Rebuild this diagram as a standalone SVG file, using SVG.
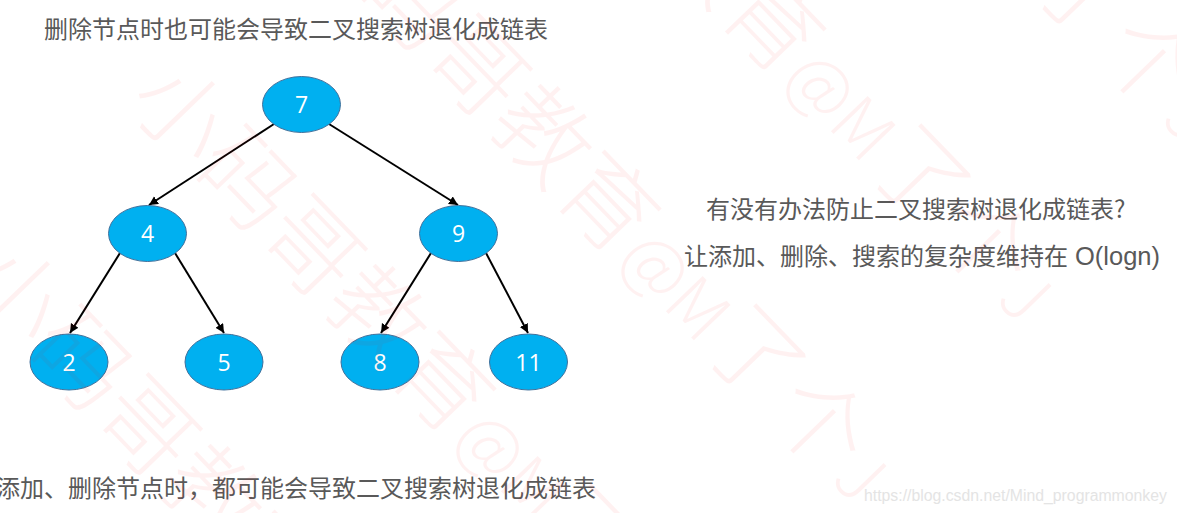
<svg xmlns="http://www.w3.org/2000/svg" width="1177" height="513" viewBox="0 0 1177 513">
<style>
.t{font-family:"Noto Sans CJK SC","Noto Sans",sans-serif;font-size:24px;fill:#595959}
.n{fill:#00b0f0;stroke:#41719c;stroke-width:1}
.l{font-family:"Open Sans","Noto Sans",sans-serif;font-size:23px;fill:#fff;text-anchor:middle}
.e{stroke:#000;stroke-width:2;fill:none;marker-end:url(#a)}
.w{font-family:"Noto Sans CJK SC",sans-serif;font-weight:300;font-size:94px;fill:#ff0000;fill-opacity:.055}
.s{font-size:70px}
</style>
<defs><marker id="a" markerUnits="userSpaceOnUse" markerWidth="10" markerHeight="10" refX="9" refY="4.5" orient="auto"><path d="M0 0L9 4.5L0 9Z" fill="#000"/></marker></defs>
<rect width="1177" height="513" fill="#fff"/>
<g id="connectors">
<line class="e" x1="274" y1="124" x2="149" y2="205"/>
<line class="e" x1="329" y1="124" x2="458" y2="205"/>
<line class="e" x1="120" y1="253" x2="70" y2="333"/>
<line class="e" x1="175" y1="253" x2="224" y2="333"/>
<line class="e" x1="431" y1="253" x2="381" y2="333"/>
<line class="e" x1="486" y1="253" x2="528" y2="333"/>
</g>
<g id="n7"><ellipse class="n" cx="301.5" cy="104.5" rx="39" ry="28"/><text class="l" x="301.5" y="113">7</text></g>
<g id="n4"><ellipse class="n" cx="147.5" cy="233.5" rx="39" ry="28"/><text class="l" x="147.5" y="242">4</text></g>
<g id="n9"><ellipse class="n" cx="458.5" cy="233.5" rx="39" ry="28"/><text class="l" x="458.5" y="242">9</text></g>
<g id="n2"><ellipse class="n" cx="69" cy="362" rx="39" ry="28"/><text class="l" x="69" y="371">2</text></g>
<g id="n5"><ellipse class="n" cx="224" cy="362" rx="39" ry="28"/><text class="l" x="224" y="371">5</text></g>
<g id="n8"><ellipse class="n" cx="380" cy="362" rx="39" ry="28"/><text class="l" x="380" y="371">8</text></g>
<g id="n11"><ellipse class="n" cx="528.5" cy="362" rx="39" ry="28"/><text class="l" x="528.5" y="371">11</text></g>
<text class="t" x="44" y="38">删除节点时也可能会导致二叉搜索树退化成链表</text>
<text class="t" x="596" y="497" text-anchor="end">添加、删除节点时，都可能会导致二叉搜索树退化成链表</text>
<text class="t" x="706" y="218">有没有办法防止二叉搜索树退化成链表?</text>
<text class="t" x="684" y="265">让添加、删除、搜索的复杂度维持在 <tspan x="1075" style="font-family:'Liberation Sans',sans-serif;font-size:25.5px">O(logn)</tspan></text>
<text x="864" y="501" style="font-family:'Liberation Sans',sans-serif;font-size:15.8px;fill:#e4e4e4">https://blog.csdn.net/Mind_programmonkey</text>
<g id="watermark">
<text class="w" transform="translate(125,102) rotate(46)">小码哥教育<tspan class="s">@M</tspan>了个<tspan class="s">J</tspan></text>
<text class="w" transform="translate(290,-78) rotate(46)">小码哥教育<tspan class="s">@M</tspan>了个<tspan class="s">J</tspan></text>
<text class="w" transform="translate(-40,282) rotate(46)">小码哥教育<tspan class="s">@M</tspan>了个<tspan class="s">J</tspan></text>
<text class="w" transform="translate(455,-258) rotate(46)">小码哥教育<tspan class="s">@M</tspan>了个<tspan class="s">J</tspan></text>
<text class="w" transform="translate(620,-438) rotate(46)">小码哥教育<tspan class="s">@M</tspan>了个<tspan class="s">J</tspan></text>
</g>
</svg>
